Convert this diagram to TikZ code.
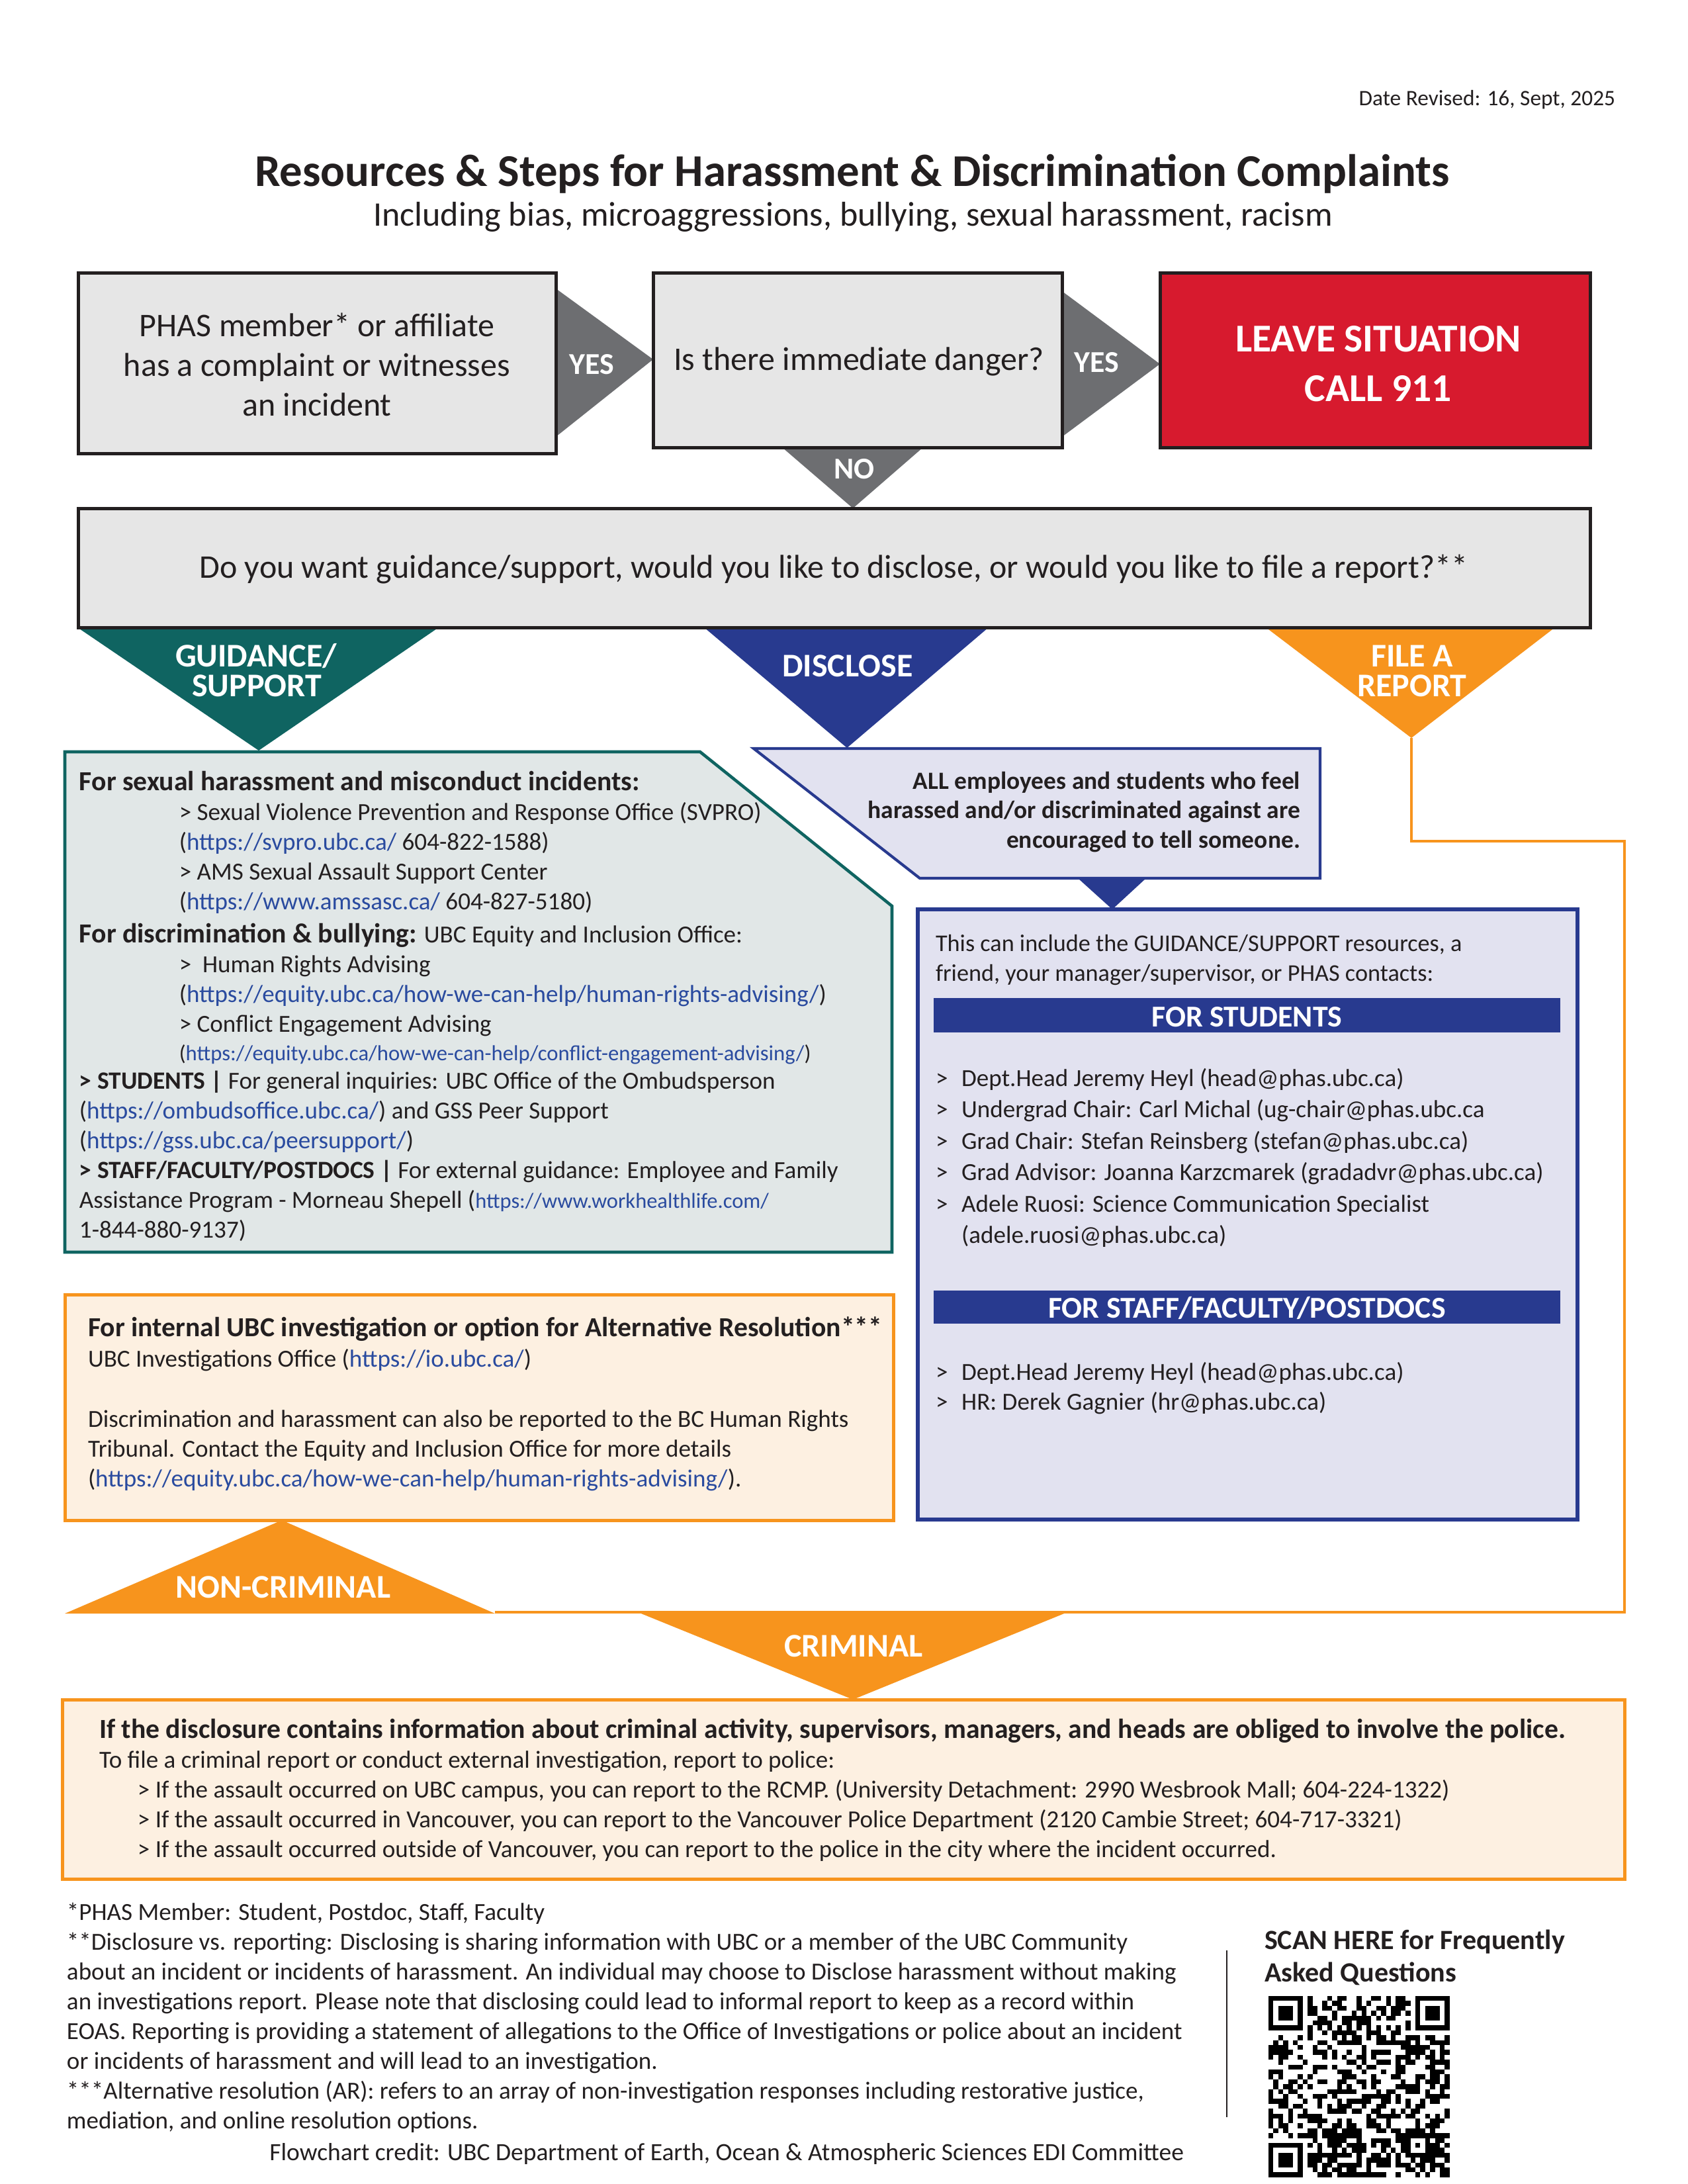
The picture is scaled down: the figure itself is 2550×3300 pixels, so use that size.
\documentclass[tikz,border=0pt]{standalone}
\usepackage{fontspec}
\setmainfont{Carlito}
\usetikzlibrary{fit}
\pgfdeclarelayer{background}
\pgfsetlayers{background,main}
\definecolor{ink}{HTML}{231F20}
\definecolor{boxgray}{HTML}{E6E6E6}
\definecolor{arrowgray}{HTML}{6D6E71}
\definecolor{alertred}{HTML}{D71A2E}
\definecolor{tealc}{HTML}{0F6461}
\definecolor{tealfill}{HTML}{E1E7E7}
\definecolor{navy}{HTML}{283A8F}
\definecolor{lav}{HTML}{E2E2F0}
\definecolor{orangec}{HTML}{F7941D}
\definecolor{peach}{HTML}{FDF0E1}
\definecolor{urlblue}{HTML}{2A4B9F}
\newcommand{\setfs}[2]{\fontsize{#1}{#2}\selectfont}
\newcommand{\lnk}[1]{\textcolor{urlblue}{#1}}
\newcommand{\gtm}{\makebox[9.4pt][l]{>}}
\begin{document}
\begin{tikzpicture}[x=0.24pt,y=-0.24pt,
  every node/.style={inner sep=0pt, outer sep=0pt, text=ink},
  flowbox/.style={draw=ink, line width=1.2pt, fill=boxgray},
  wlabel/.style={text=white, font=\bfseries\setfs{11}{13}, anchor=base},
  blabel/.style={text=white, font=\bfseries\setfs{12}{13}, anchor=base},
  para/.style={anchor=north west, align=left},
  barbox/.style={fill=navy},
  bartext/.style={text=white, font=\bfseries\setfs{11}{13}, anchor=base},
  orbox/.style={draw=orangec, line width=1.2pt, fill=peach}
]
\begin{pgfonlayer}{background}
\fill[white] (0,0) rectangle (2550,3300);
\end{pgfonlayer}
\useasboundingbox (0,0) rectangle (2550,3300);

% ---------- header ----------
\node[anchor=base east, font=\setfs{8}{10}] (date) at (2441,159) {Date Revised: 16, Sept, 2025};
\node[anchor=base, font=\bfseries\setfs{16.5}{20}] (title) at (1288,281) {Resources \& Steps for Harassment \& Discrimination Complaints};
\node[anchor=base, font=\setfs{12.5}{15}] (subtitle) at (1289,341) {Including bias, microaggressions, bullying, sexual harassment, racism};

% ---------- top row ----------
\node[flowbox, fit={(118,412) (840,685)}] (start) {};
\node[anchor=north, align=center, font=\setfs{12}{14.4}] (starttext) at (479,466) {\strut PHAS member* or affiliate\\has a complaint or witnesses\\an incident};
\node[flowbox, fit={(987,412) (1605,676)}] (danger) {};
\node[anchor=base, font=\setfs{12}{14.4}] (dangertext) at (1298,559) {Is there immediate danger?};
\node[draw=ink, line width=1.2pt, fill=alertred, fit={(1753,412) (2403,676)}] (leave) {};
\node[anchor=north, align=center, text=white, font=\bfseries\setfs{14.3}{17.8}] (leavetext) at (2083,480) {\strut LEAVE SITUATION\\CALL 911};
\node[flowbox, fit={(118,768) (2403,948)}] (question) {};
\node[anchor=base, font=\setfs{12}{14.4}] (questiontext) at (1260,873) {Do you want guidance/support, would you like to disclose, or would you like to file a report?**};

\begin{pgfonlayer}{background}
\fill[arrowgray] (start.east |- 0,436) -- (danger.west |- 0,543) -- (start.east |- 0,660) -- cycle;
\fill[arrowgray] (danger.east |- 0,440) -- (leave.west |- 0,550) -- (danger.east |- 0,660) -- cycle;
\fill[arrowgray] (1182,676) -- (1395,676) -- (question.north -| 1289,0) -- cycle;
\fill[tealc] (117,948) -- (663,948) -- (391,1134) -- cycle;
\fill[navy] (1064,948) -- (1494,948) -- (1280,1130) -- cycle;
\fill[orangec] (1913,948) -- (2350,948) -- (2133,1115) -- cycle;
\end{pgfonlayer}
\node[wlabel] (yes1) at (894,565) {YES};
\node[wlabel] (yes2) at (1657,562) {YES};
\node[wlabel] (no) at (1291,723) {NO};
\node[blabel] (guidelbla) at (387,1007) {GUIDANCE/};
\node[blabel] (guidelblb) at (388,1052) {SUPPORT};
\node[blabel] (discllbl) at (1281,1022) {DISCLOSE};
\node[blabel] (filelbla) at (2134,1007) {FILE A};
\node[blabel] (filelblb) at (2134,1052) {REPORT};
\coordinate (filetip) at (2133,1115);

% ---------- guidance box ----------
\draw[tealc, line width=1.1pt, fill=tealfill] (98,1136) -- (1058,1136) -- (1348,1369) -- (1348,1892) -- (98,1892) -- cycle;
\node[para, font=\setfs{8.9}{10.8}] (guidetext) at (120,1163) {\strut{\bfseries\setfs{10}{10.8}For sexual harassment and misconduct incidents:}\\
\hspace*{36.2pt}> Sexual Violence Prevention and Response Office (SVPRO)\\
\hspace*{36.2pt}(\lnk{https://svpro.ubc.ca/} 604-822-1588)\\
\hspace*{36.2pt}> AMS Sexual Assault Support Center\\
\hspace*{36.2pt}(\lnk{https://www.amssasc.ca/} 604-827-5180)\\[1.2pt]
{\bfseries\setfs{10}{10.8}For discrimination \& bullying:} UBC Equity and Inclusion Office:\\
\hspace*{36.2pt}> \ Human Rights Advising\\
\hspace*{36.2pt}(\lnk{https://equity.ubc.ca/how-we-can-help/human-rights-advising/})\\
\hspace*{36.2pt}> Conflict Engagement Advising\\[-0.6pt]
\hspace*{36.2pt}{\setfs{7.85}{10.8}(\lnk{https://equity.ubc.ca/how-we-can-help/conflict-engagement-advising/})}\\[-0.4pt]
{\bfseries\setfs{9}{10.8}> STUDENTS |} For general inquiries: UBC Office of the Ombudsperson\\
(\lnk{https://ombudsoffice.ubc.ca/}) and GSS Peer Support\\
(\lnk{https://gss.ubc.ca/peersupport/})\\
{\bfseries\setfs{9}{10.8}> STAFF/FACULTY/POSTDOCS |} For external guidance: Employee and Family\\
Assistance Program - Morneau Shepell ({\setfs{7.8}{10.8}\lnk{https://www.workhealthlife.com/}}\\
1-844-880-9137)};

% ---------- disclose ----------
\draw[navy, line width=1pt, fill=lav] (1139,1131) -- (1995,1131) -- (1995,1327) -- (1390,1327) -- cycle;
\node[anchor=north east, align=right, font=\bfseries\setfs{9}{10.7}] (discltext) at (1965,1161) {\strut ALL employees and students who feel\\harassed and/or discriminated against are\\encouraged to tell someone.};
\node[draw=navy, line width=1.3pt, fill=lav, fit={(1387,1374) (2384,2296)}] (contacts) {};
\fill[navy] (1629,1327) -- (1732,1327) -- (contacts.north -| 1681,0) -- cycle;
\node[para, font=\setfs{8.7}{10.6}] (contintro) at (1414,1407) {\strut This can include the GUIDANCE/SUPPORT resources, a\\friend, your manager/supervisor, or PHAS contacts:};
\node[barbox, fit={(1411,1508) (2358,1560)}] (forstud) {};
\node[bartext] (forstudtext) at (forstud.center |- 0,1551) {FOR STUDENTS};
\node[para, font=\setfs{8.9}{11.4}] (studlist) at (1414,1608) {\strut\gtm Dept.Head Jeremy Heyl (head@phas.ubc.ca)\\
\gtm Undergrad Chair: Carl Michal (ug-chair@phas.ubc.ca\\
\gtm Grad Chair: Stefan Reinsberg (stefan@phas.ubc.ca)\\
\gtm Grad Advisor: Joanna Karzcmarek (gradadvr@phas.ubc.ca)\\
\gtm Adele Ruosi: Science Communication Specialist\\
\hspace*{9.4pt}(adele.ruosi@phas.ubc.ca)};
\node[barbox, fit={(1411,1950) (2358,2000)}] (forstaff) {};
\node[bartext] (forstafftext) at (forstaff.center |- 0,1991) {FOR STAFF/FACULTY/POSTDOCS};
\node[para, font=\setfs{8.9}{11}] (stafflist) at (1414,2053) {\strut\gtm Dept.Head Jeremy Heyl (head@phas.ubc.ca)\\
\gtm HR: Derek Gagnier (hr@phas.ubc.ca)};

% ---------- file a report ----------
\node[orbox, fit={(98,1956) (1350,2297)}] (internal) {};
\node[para, font=\setfs{8.9}{10.9}] (internaltext) at (133,1988) {\strut{\bfseries\setfs{10}{10.9}For internal UBC investigation or option for Alternative Resolution***}\\
UBC Investigations Office (\lnk{https://io.ubc.ca/})\\[10.9pt]
Discrimination and harassment can also be reported to the BC Human Rights\\
Tribunal. Contact the Equity and Inclusion Office for more details\\
(\lnk{https://equity.ubc.ca/how-we-can-help/human-rights-advising/}).};
\coordinate (ncright) at (748,2436);
\draw[orangec, line width=1.1pt] (filetip) |- (2455,1271) |- (ncright);
\fill[orangec] (internal.south -| 426,0) -- (748,2438) -- (98,2438) -- cycle;
\node[blabel] (noncrim) at (428,2414) {NON-CRIMINAL};
\node[orbox, fit={(94,2568) (2455,2839)}] (police) {};
\fill[orangec] (959,2434) -- (1618,2434) -- (police.north -| 1289,0) -- cycle;
\node[blabel] (crim) at (1290,2503) {CRIMINAL};
\node[para, font=\setfs{8.9}{10.8}] (policetext) at (150,2595) {\strut{\bfseries\setfs{10}{10.8}If the disclosure contains information about criminal activity, supervisors, managers, and heads are obliged to involve the police.}\\
To file a criminal report or conduct external investigation, report to police:\\
\hspace*{13.9pt}> If the assault occurred on UBC campus, you can report to the RCMP. (University Detachment: 2990 Wesbrook Mall; 604-224-1322)\\
\hspace*{13.9pt}> If the assault occurred in Vancouver, you can report to the Vancouver Police Department (2120 Cambie Street; 604-717-3321)\\
\hspace*{13.9pt}> If the assault occurred outside of Vancouver, you can report to the police in the city where the incident occurred.};

% ---------- footnotes ----------
\node[para, font=\setfs{8.9}{10.8}] (notes) at (101,2870) {\strut*PHAS Member: Student, Postdoc, Staff, Faculty\\
**Disclosure vs. reporting: Disclosing is sharing information with UBC or a member of the UBC Community\\
about an incident or incidents of harassment. An individual may choose to Disclose harassment without making\\
an investigations report. Please note that disclosing could lead to informal report to keep as a record within\\
EOAS. Reporting is providing a statement of allegations to the Office of Investigations or police about an incident\\
or incidents of harassment and will lead to an investigation.\\
***Alternative resolution (AR): refers to an array of non-investigation responses including restorative justice,\\
mediation, and online resolution options.};
\node[anchor=base east, font=\setfs{9}{10.8}] (credit) at (1789,3264) {Flowchart credit: UBC Department of Earth, Ocean \& Atmospheric Sciences EDI Committee};
\draw[ink, line width=0.7pt] (1854,2947) -- (1854,3199);
\node[para, font=\bfseries\setfs{10.1}{11.8}] (scan) at (1911,2911) {\strut SCAN HERE for Frequently\\Asked Questions};

% ---------- QR ----------
\begin{scope}[shift={(1917,3016)}]
\pgfmathsetseed{20250916}
\foreach \fx/\fy in {0/0,30/0,0/30}{
  \fill[black] (\fx*7.4,\fy*7.4) rectangle +(7*7.4,7*7.4);
  \fill[white] (\fx*7.4+7.4,\fy*7.4+7.4) rectangle +(5*7.4,5*7.4);
  \fill[black] (\fx*7.4+14.8,\fy*7.4+14.8) rectangle +(3*7.4,3*7.4);
}
\fill[black] (28*7.4,28*7.4) rectangle +(5*7.4,5*7.4);
\fill[white] (29*7.4,29*7.4) rectangle +(3*7.4,3*7.4);
\fill[black] (30*7.4,30*7.4) rectangle +(7.4,7.4);
\foreach \i in {0,...,36}{
  \foreach \j in {0,...,36}{
    \pgfmathtruncatemacro{\qskip}{((\i<8)&&(\j<8))||((\i>28)&&(\j<8))||((\i<8)&&(\j>28))||((\i>27)&&(\i<33)&&(\j>27)&&(\j<33))}
    \ifnum\qskip=0
      \pgfmathtruncatemacro{\qtim}{(\i==6)||(\j==6)}
      \ifnum\qtim=1
        \pgfmathtruncatemacro{\qon}{1-mod(\i+\j,2)}
      \else
        \pgfmathrandominteger{\qon}{0}{1}
      \fi
      \ifnum\qon=1 \fill[black] (\i*7.4,\j*7.4) rectangle +(7.45,7.45); \fi
    \fi
  }
}
\end{scope}
\end{tikzpicture}
\end{document}
